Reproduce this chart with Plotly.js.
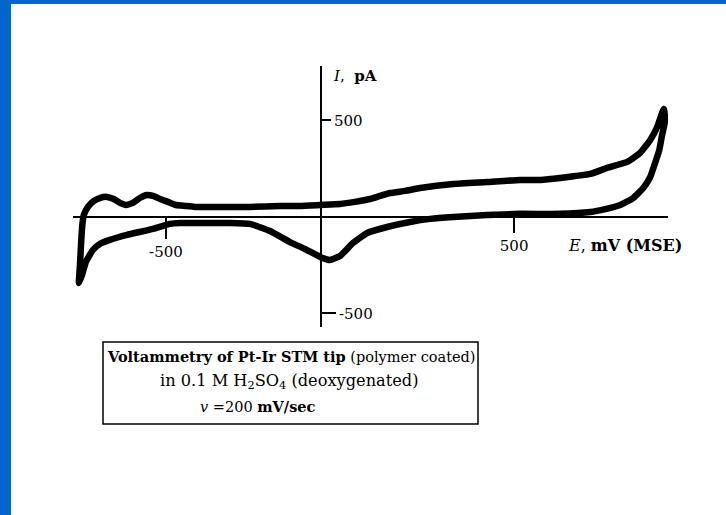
<!DOCTYPE html>
<html>
<head>
<meta charset="utf-8">
<script src="https://cdn.plot.ly/plotly-3.0.1.min.js"></script>
<style>html,body{margin:0;padding:0;background:#fff;}#chart{width:726px;height:515px;}</style>
</head>
<body>
<div id="chart"></div>
<script>
// Forward (anodic) sweep, left vertex -> right vertex. E in mV (MSE), I in pA
var E_forward = [-750,-747,-744,-741,-736,-724,-707,-690,-670,-650,-632,-615,-595,-575,-555,-537,-517,-494,-471,-445,-417,-345,-259,-172,-115,-57,0,43,86,115,144,187,230,325,422,517,575,632,719,767,825,862,891,911,925,930];
var I_forward = [-342,-249,-145,-57,10,52,83,98,104,93,73,62,73,98,114,109,93,78,62,57,52,52,52,57,57,62,67,78,93,109,124,135,150,171,181,192,192,202,223,254,285,332,399,466,539,560];
// Reverse (cathodic) sweep, right vertex -> left vertex
var E_reverse = [934,925,917,905,891,871,842,805,762,719,632,517,422,325,259,201,135,78,37,0,-29,-57,-101,-144,-201,-259,-316,-402,-460,-489,-537,-612,-661,-690,-710,-730,-741,-750];
var I_reverse = [502,425,347,280,207,150,98,62,41,26,16,16,10,0,-10,-26,-52,-83,-135,-202,-223,-207,-166,-130,-73,-36,-31,-31,-31,-36,-62,-93,-119,-140,-171,-233,-300,-342];

var xTickPos = [500], xTickPosText = ['500'];
var xTickNeg = [-500], xTickNegText = ['-500'];
var yTickPos = [500], yTickPosText = ['500'];
var yTickNeg = [-500], yTickNegText = ['-500'];

var captionLines = [
  '<b>Voltammetry of Pt-Ir STM tip</b> (polymer coated)',
  'in 0.1 M H<sub>2</sub>SO<sub>4</sub> (deoxygenated)',
  '<i>v</i> =200 <b>mV/sec</b>'
];

var W = 726, H = 515;
function px(x){ return x / W; }
function py(y){ return 1 - y / H; }

var FONT = 'DejaVu Serif, Liberation Serif, serif';
var xRange = [-767, 942];
var yRange = [-570, 782];
var xDom = [px(73), px(668)];
var yDom = [py(327), py(66)];

var traces = [
  {
    x: E_forward.concat(E_reverse),
    y: I_forward.concat(I_reverse),
    mode: 'lines',
    line: {color: '#000', width: 6.5, shape: 'spline', smoothing: 0.4},
    hoverinfo: 'skip',
    showlegend: false
  },
  { x: [], y: [], xaxis: 'x2', yaxis: 'y2', mode: 'lines', showlegend: false }
];

var tickFont = {family: FONT, size: 15, color: '#000'};

var layout = {
  width: W, height: H,
  margin: {l: 0, r: 0, t: 0, b: 0, pad: 0},
  paper_bgcolor: '#fff', plot_bgcolor: 'rgba(0,0,0,0)',
  showlegend: false,
  xaxis: {
    domain: xDom, range: xRange, anchor: 'free', position: py(217),
    showline: true, linecolor: '#000', linewidth: 2,
    showgrid: false, zeroline: false,
    tickmode: 'array', tickvals: xTickPos, ticktext: xTickPosText,
    ticks: 'outside', ticklen: 15, tickwidth: 2, tickcolor: '#000',
    tickfont: tickFont, fixedrange: true
  },
  xaxis2: {
    overlaying: 'x', domain: xDom, range: xRange, anchor: 'free', position: py(217),
    showline: false, showgrid: false, zeroline: false,
    tickmode: 'array', tickvals: xTickNeg, ticktext: xTickNegText,
    ticks: 'outside', ticklen: 21, tickwidth: 2, tickcolor: '#000',
    tickfont: tickFont, fixedrange: true
  },
  yaxis: {
    domain: yDom, range: yRange, anchor: 'free', position: px(321), side: 'right',
    showline: true, linecolor: '#000', linewidth: 2,
    showgrid: false, zeroline: false,
    tickmode: 'array', tickvals: yTickPos, ticktext: yTickPosText,
    ticks: 'outside', ticklen: 9, tickwidth: 2, tickcolor: '#000',
    tickfont: tickFont, fixedrange: true
  },
  yaxis2: {
    overlaying: 'y', domain: yDom, range: yRange, anchor: 'free', position: px(321), side: 'right',
    showline: false, showgrid: false, zeroline: false,
    tickmode: 'array', tickvals: yTickNeg, ticktext: yTickNegText,
    ticks: 'outside', ticklen: 14, tickwidth: 2, tickcolor: '#000',
    tickfont: tickFont, fixedrange: true
  },
  shapes: [
    {type: 'rect', xref: 'paper', yref: 'paper', x0: 0, x1: px(11), y0: 0, y1: 1, fillcolor: '#0066CC', line: {width: 0}, layer: 'above'},
    {type: 'rect', xref: 'paper', yref: 'paper', x0: 0, x1: 1, y0: py(4), y1: 1, fillcolor: '#0066CC', line: {width: 0}, layer: 'above'},
    {type: 'rect', xref: 'paper', yref: 'paper', x0: px(103), x1: px(478), y0: py(424), y1: py(342), fillcolor: 'rgba(0,0,0,0)', line: {color: '#000', width: 1.5}}
  ],
  annotations: [
    {xref: 'paper', yref: 'paper', x: px(331), y: py(76), xanchor: 'left', yanchor: 'middle', showarrow: false,
     text: '<i>I</i>,  <b>pA</b>', font: {family: FONT, size: 15, color: '#000'}},
    {xref: 'paper', yref: 'paper', x: px(566), y: py(245), xanchor: 'left', yanchor: 'middle', showarrow: false,
     text: '<i>E</i>, <b>mV (MSE)</b>', font: {family: FONT, size: 16, color: '#000'}},
    {xref: 'paper', yref: 'paper', x: px(291), y: py(356), xanchor: 'center', yanchor: 'middle', showarrow: false,
     text: captionLines[0], font: {family: FONT, size: 14.5, color: '#000'}},
    {xref: 'paper', yref: 'paper', x: px(289), y: py(381), xanchor: 'center', yanchor: 'middle', showarrow: false,
     text: captionLines[1], font: {family: FONT, size: 16.2, color: '#000'}},
    {xref: 'paper', yref: 'paper', x: px(258), y: py(406), xanchor: 'center', yanchor: 'middle', showarrow: false,
     text: captionLines[2], font: {family: FONT, size: 14.5, color: '#000'}}
  ]
};

Plotly.newPlot('chart', traces, layout, {staticPlot: true, displayModeBar: false});
</script>
</body>
</html>
